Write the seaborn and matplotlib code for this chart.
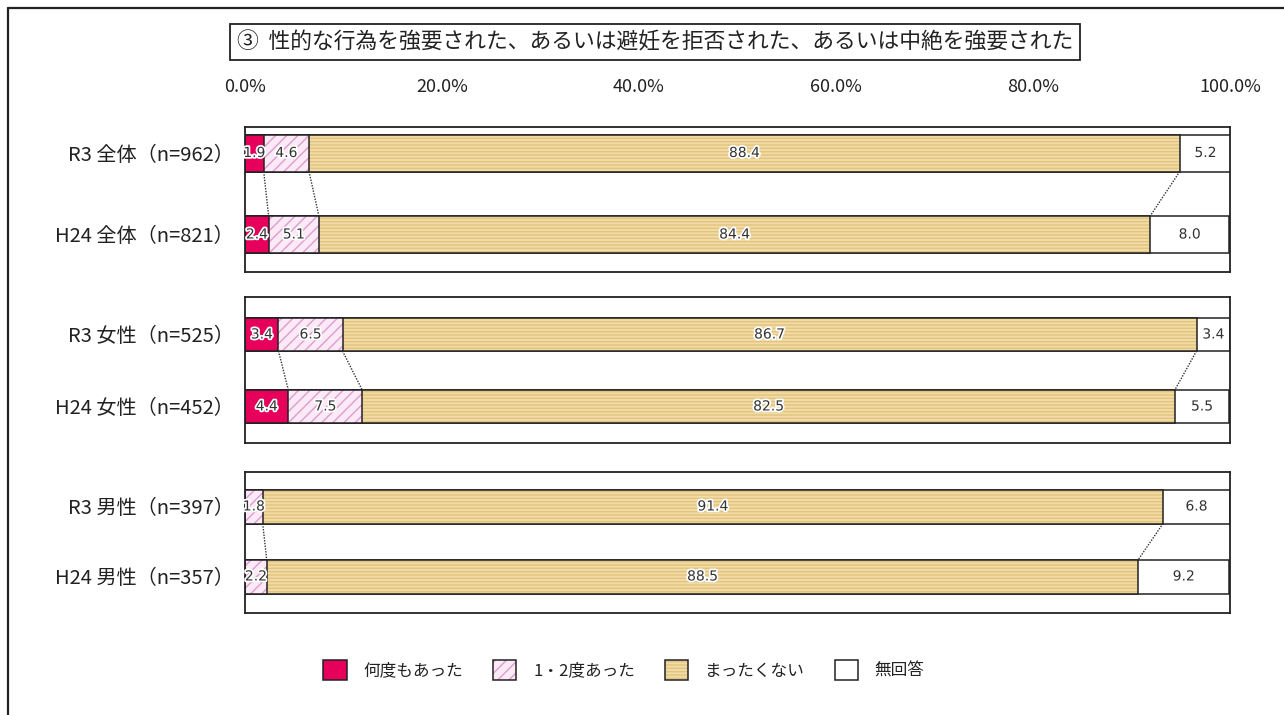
import matplotlib
matplotlib.use("Agg")
import matplotlib.pyplot as plt
import seaborn as sns
import numpy as np
from matplotlib.patches import Patch
from matplotlib.lines import Line2D
from matplotlib.legend_handler import HandlerTuple
import matplotlib.patheffects as pe

# ---------------- data ----------------
title = "③  性的な行為を強要された、あるいは避妊を拒否された、あるいは中絶を強要された"
categories = ["何度もあった", "1・2度あった", "まったくない", "無回答"]

labels_all = ["R3 全体（n=962）", "H24 全体（n=821）"]
labels_female = ["R3 女性（n=525）", "H24 女性（n=452）"]
labels_male = ["R3 男性（n=397）", "H24 男性（n=357）"]

many_all = [1.9, 2.4]
once_all = [4.6, 5.1]
never_all = [88.4, 84.4]
na_all = [5.2, 8.0]

many_female = [3.4, 4.4]
once_female = [6.5, 7.5]
never_female = [86.7, 82.5]
na_female = [3.4, 5.5]

many_male = [0.0, 0.0]
once_male = [1.8, 2.2]
never_male = [91.4, 88.5]
na_male = [6.8, 9.2]

xticks = [0, 20, 40, 60, 80, 100]
xtick_labels = ["0.0%", "20.0%", "40.0%", "60.0%", "80.0%", "100.0%"]

# ---------------- style ----------------
sns.set_theme(style="white")
plt.rcParams["font.family"] = ["Noto Sans CJK JP", "DejaVu Sans"]
plt.rcParams["hatch.linewidth"] = 1.0

RED = "#E6005C"
PINK_FACE, PINK_HATCH = "#FBE9F6", "#DE9CCF"
TAN_FACE, TAN_HATCH = "#F2DCA6", "#E2C37F"
WHITE = "#FFFFFF"
styles = [
    (RED, None, None),
    (PINK_FACE, "///", PINK_HATCH),
    (TAN_FACE, "-----", TAN_HATCH),
    (WHITE, None, None),
]

W, H = 1284, 715
fig = plt.figure(figsize=(W / 100, H / 100), dpi=100)

X0, X1 = 245, 1230
# (box top px, box bottom px, bar center0, bar center1, bar height)
geoms = [
    (127, 272, 153.0, 234.5, 37),
    (297, 443, 334.5, 406.5, 33),
    (472, 613, 506.5, 576.5, 34),
]
groups = [
    (labels_all, [many_all, once_all, never_all, na_all]),
    (labels_female, [many_female, once_female, never_female, na_female]),
    (labels_male, [many_male, once_male, never_male, na_male]),
]

axes = []
for gi, ((top, bot, c0, c1, bh), (labels, series)) in enumerate(zip(geoms, groups)):
    ax = fig.add_axes([X0 / W, 1 - bot / H, (X1 - X0) / W, (bot - top) / H])
    axes.append(ax)
    s = c1 - c0
    width = bh / s
    vals = np.array(series)  # shape (4, 2)
    cum = np.cumsum(vals, axis=0)
    # draw cumulative layers from the widest to the narrowest
    for k in range(3, -1, -1):
        face, hatch, hcol = styles[k]
        if np.all(vals[k] == 0):
            continue
        sns.barplot(x=list(cum[k]), y=labels, orient="h", color=face, saturation=1,
                    width=width, edgecolor=hcol if hcol else face, linewidth=0,
                    hatch=hatch, errorbar=None, ax=ax)
        sns.barplot(x=list(cum[k]), y=labels, orient="h", color="#222222", fill=False,
                    width=width, linewidth=1.1, errorbar=None, ax=ax)
    # dotted connectors
    for k in range(3):
        a, b = cum[k][0], cum[k][1]
        if a <= 0 and b <= 0:
            continue
        ax.plot([a, b], [0 + width / 2, 1 - width / 2], linestyle=(0, (1, 1)),
                color="#333333", lw=1.0, zorder=5)
    # value labels
    for k in range(4):
        for j in range(2):
            v = vals[k][j]
            if v <= 0:
                continue
            xc = (cum[k][j] - v) + v / 2
            ax.text(xc, j, f"{v:.1f}", ha="center", va="center", fontsize=10,
                    color="#333333", zorder=6, family=["DejaVu Sans"],
                    path_effects=[pe.withStroke(linewidth=2.5, foreground="white")])
    ax.set_xlim(0, 100)
    ax.set_ylim((bot - c0) / s, (top - c0) / s)
    ax.set_xlabel("")
    ax.set_ylabel("")
    ax.tick_params(axis="y", length=0, pad=8, labelsize=14.5, labelcolor="#222222")
    for sp in ax.spines.values():
        sp.set_color("#222222")
        sp.set_linewidth(1.3)
    if gi == 0:
        ax.xaxis.set_ticks_position("top")
        ax.set_xticks(xticks)
        ax.set_xticklabels(xtick_labels)
        ax.tick_params(axis="x", length=0, pad=22, labelsize=13, labelcolor="#222222")
    else:
        ax.set_xticks([])

# title box
fig.text(655 / W, 1 - 42 / H, title, ha="center", va="center", fontsize=15.7, color="#222222",
         bbox=dict(boxstyle="square,pad=0.3", facecolor="white", edgecolor="#222222", linewidth=1.3))

# outer border (left and top visible)
fig.add_artist(Line2D([8 / W, 8 / W], [0, 1 - 8 / H], color="#222222", lw=1.6))
fig.add_artist(Line2D([8 / W, 1], [1 - 8 / H, 1 - 8 / H], color="#222222", lw=1.6))

# legend
handles = []
for face, hatch, hcol in styles:
    p1 = Patch(facecolor=face, edgecolor=hcol if hcol else face, hatch=hatch, linewidth=0)
    p2 = Patch(facecolor="none", edgecolor="#222222", linewidth=1.1)
    handles.append((p1, p2))
fig.legend(handles, categories, loc="center", bbox_to_anchor=(624 / W, 1 - 670 / H), ncol=4,
           frameon=False, fontsize=12, handlelength=1.4, handleheight=1.5, handletextpad=1.0,
           columnspacing=1.8, handler_map={tuple: HandlerTuple(ndivide=1)},
           labelcolor="#222222")

fig.savefig("out.png", dpi=100)
